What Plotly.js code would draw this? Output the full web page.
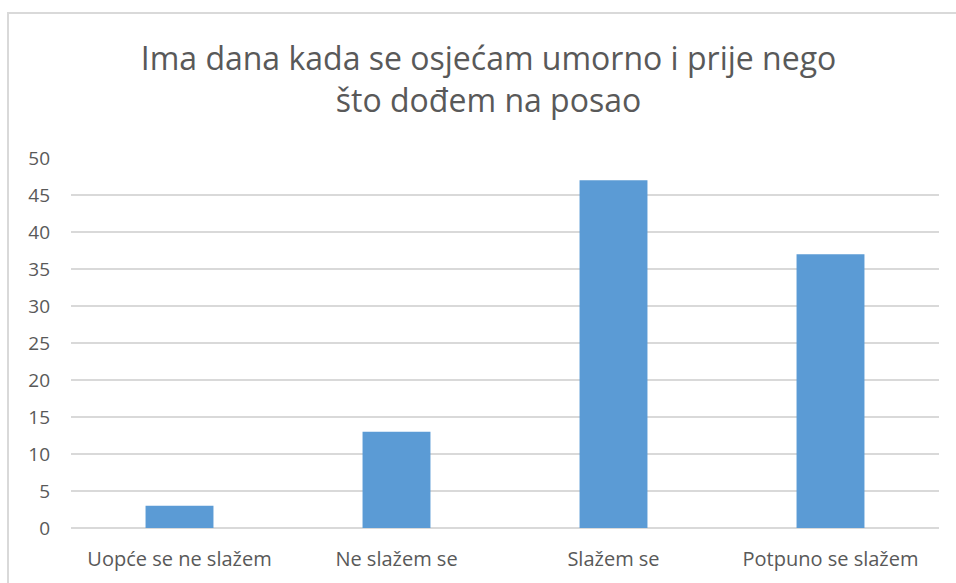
<!DOCTYPE html>
<html>
<head>
<meta charset="utf-8">
<script src="https://cdn.plot.ly/plotly-3.0.1.min.js"></script>
<style>
  html, body { margin: 0; padding: 0; background: #fff; }
  #frame { position: absolute; left: 7px; top: 12px; width: 1000px; height: 600px;
           border-left: 2px solid #d9d9d9; border-top: 2px solid #d9d9d9; }
  #chart { position: absolute; left: 0; top: 0; width: 956px; height: 583px; }
</style>
</head>
<body>
<div id="frame"></div>
<div id="chart"></div>
<script>
const categories = ["Uopće se ne slažem", "Ne slažem se", "Slažem se", "Potpuno se slažem"];
const values = [3, 13, 47, 37];
const tickValues = [0, 5, 10, 15, 20, 25, 30, 35, 40, 45, 50];
const titleText = "Ima dana kada se osjećam umorno i prije nego<br>što dođem na posao";

const font = "'Open Sans', sans-serif";

Plotly.newPlot("chart", [{
  type: "bar",
  x: categories,
  y: values,
  marker: { color: "#5B9BD5" },
  hoverinfo: "x+y"
}], {
  width: 956,
  height: 583,
  margin: { l: 71, r: 17, t: 158, b: 55 },
  paper_bgcolor: "rgba(0,0,0,0)",
  plot_bgcolor: "rgba(0,0,0,0)",
  bargap: 0.687,
  showlegend: false,
  title: {
    text: titleText,
    font: { family: font, size: 32, color: "#595959" },
    x: 0.511,
    xanchor: "center",
    xref: "container",
    yref: "container",
    y: 1 - 70/583,
    yanchor: "top"
  },
  xaxis: {
    type: "category",
    showgrid: false,
    zeroline: false,
    showline: false,
    ticks: "",
    ticklabelstandoff: 17,
    tickfont: { family: font, size: 20, color: "#595959" }
  },
  yaxis: {
    range: [0, 50],
    tickvals: tickValues,
    ticktext: tickValues.map(String),
    showgrid: true,
    gridcolor: "#d9d9d9",
    gridwidth: 1.5,
    zeroline: true,
    zerolinecolor: "#d9d9d9",
    zerolinewidth: 1.5,
    showline: false,
    ticks: "",
    ticklabelstandoff: 20,
    tickfont: { family: font, size: 19, color: "#595959" }
  }
}, { displayModeBar: false, staticPlot: false });
</script>
</body>
</html>
